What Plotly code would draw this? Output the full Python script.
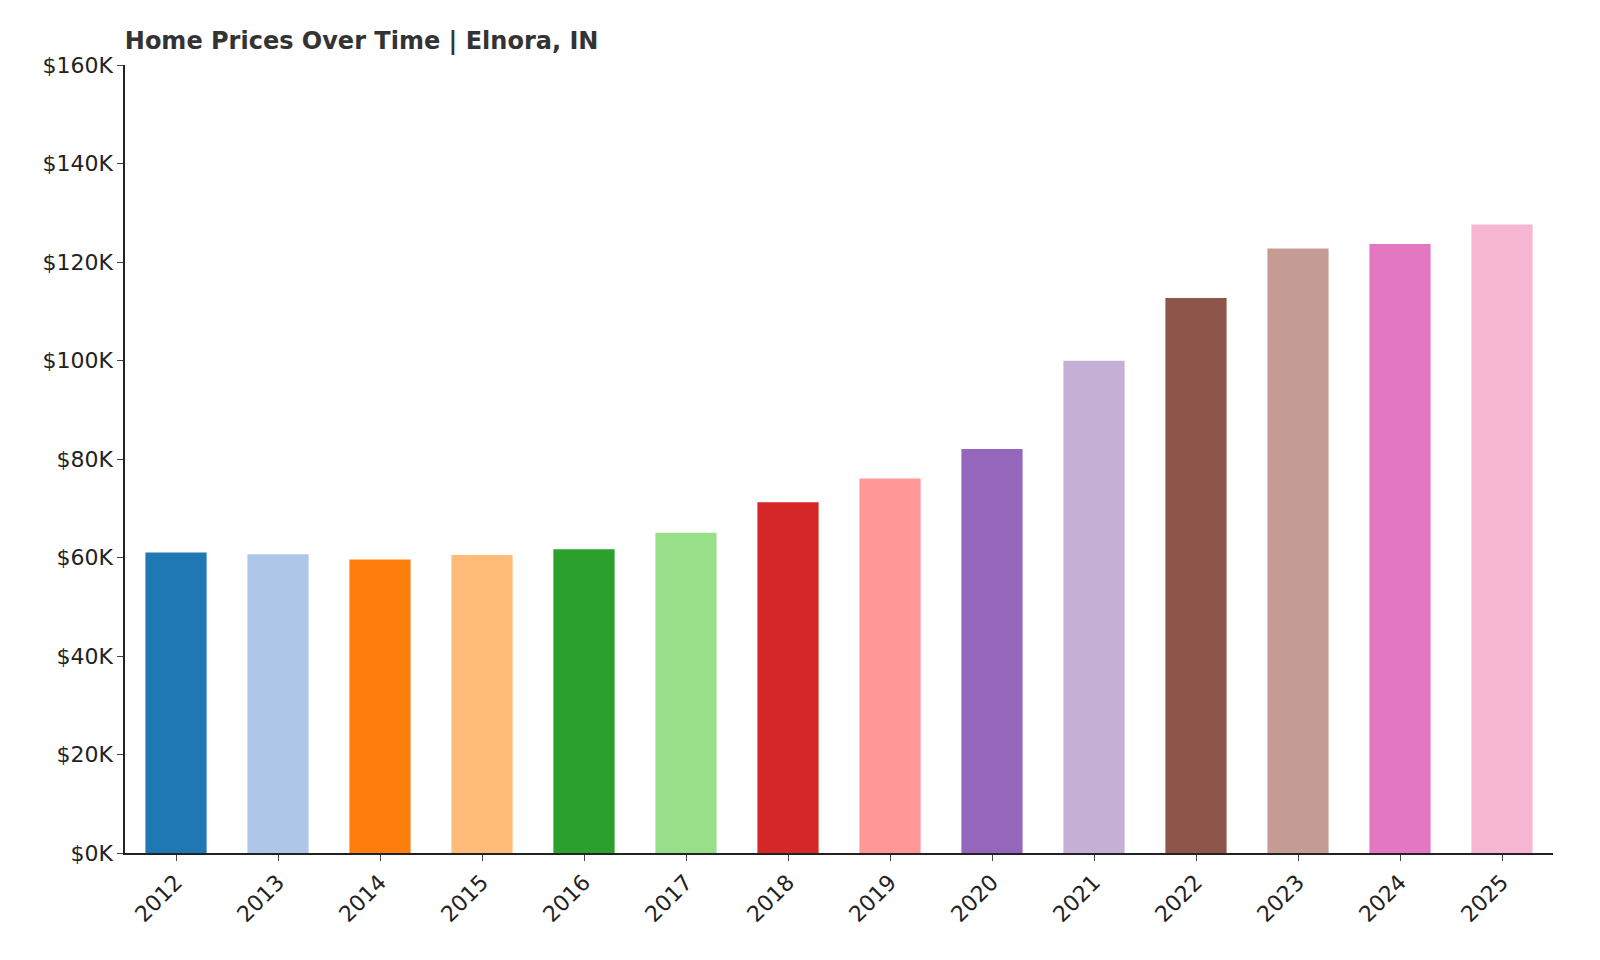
import plotly.graph_objects as go

years = ["2012", "2013", "2014", "2015", "2016", "2017", "2018", "2019",
         "2020", "2021", "2022", "2023", "2024", "2025"]
prices = [61040, 60674, 59577, 60487, 61698, 65016, 71229, 76049,
          82052, 99953, 112701, 122737, 123673, 127617]
changes = [None, "-0.60%", "-1.81%", "+1.53%", "+2.00%", "+5.38%", "+9.56%",
           "+6.77%", "+7.89%", "+21.82%", "+12.75%", "+8.91%", "+0.76%", "+3.19%"]
colors = ["#1f77b4", "#aec7e8", "#ff7f0e", "#ffbb78", "#2ca02c", "#98df8a",
          "#d62728", "#ff9896", "#9467bd", "#c5b0d5", "#8c564b", "#c49c94",
          "#e377c2", "#f7b6d2"]
tick_vals = [0, 20000, 40000, 60000, 80000, 100000, 120000, 140000, 160000]
tick_text = ["$0K", "$20K", "$40K", "$60K", "$80K", "$100K", "$120K", "$140K", "$160K"]

fig = go.Figure()
fig.add_trace(go.Bar(x=years, y=prices, marker=dict(color=colors, line=dict(width=0)),
                     width=0.6, hoverinfo="x+y"))

for yr, p, c in zip(years, prices, changes):
    txt = f"${p:,}" if c is None else f"${p:,}<br>{c}"
    fig.add_annotation(x=yr, y=p, text=txt, textangle=-90, showarrow=False,
                       yanchor="bottom", yshift=4, xanchor="center",
                       font=dict(size=15, color="#333333"))

fig.update_layout(
    width=1600, height=960,
    template="plotly_white",
    font=dict(family="DejaVu Sans", color="#222222"),
    title=dict(text="<b>Home Prices Over Time | Elnora, IN</b>", x=0.073, xanchor="left",
               y=0.975, font=dict(size=24, color="#333333")),
    margin=dict(l=117, r=55, t=57, b=115),
    showlegend=False,
    bargap=0.4,
    xaxis=dict(showgrid=False, showline=True, linecolor="#222222", linewidth=1.5,
               ticks="outside", ticklen=6, tickangle=-45, tickfont=dict(size=22),
               range=[-0.5, 13.5]),
    yaxis=dict(showgrid=False, showline=True, linecolor="#222222", linewidth=1.5,
               ticks="outside", ticklen=6, range=[0, 160000], tickvals=tick_vals,
               ticktext=tick_text, tickfont=dict(size=22), zeroline=False),
)

fig.write_html("out.html")
